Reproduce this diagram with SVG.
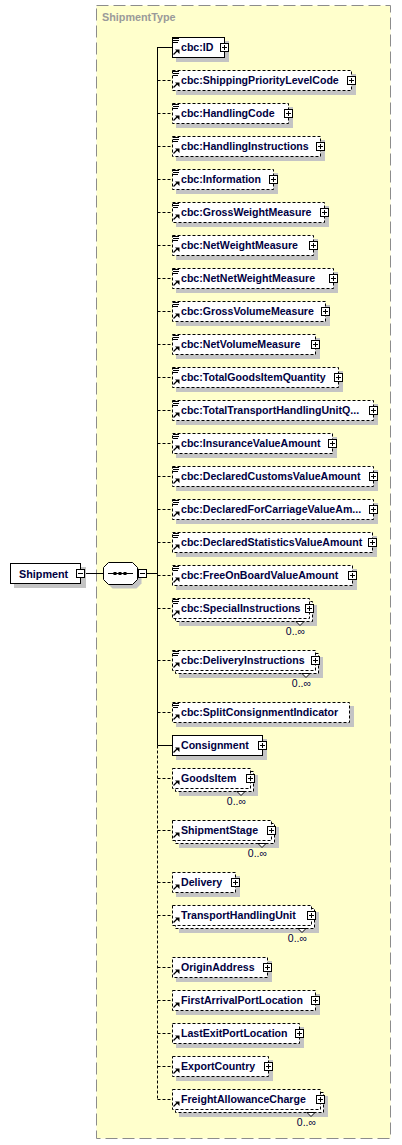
<svg xmlns="http://www.w3.org/2000/svg" width="402" height="1145" viewBox="0 0 402 1145">
<style>
.sh{fill:#c4c4c4}
.bx{fill:#fff;stroke:#000;stroke-width:1}
.d{stroke-dasharray:3,2}
.t{font-family:"Liberation Sans",Arial,sans-serif;font-weight:bold;font-size:10.6px;fill:#00003f}
.o{font-family:"Liberation Sans",Arial,sans-serif;font-size:10.5px;fill:#00003f;text-anchor:end}
.c{fill:none;stroke:#000;stroke-width:1}
.cd{fill:none;stroke:#000;stroke-width:1;stroke-dasharray:3,2}
.n{fill:#fff;stroke:#000;stroke-width:1}
</style>
<defs>
<g id="eq"><path d="M173,-8.5h6M173,-6.5h6M173,-4.5h5" stroke="#000" stroke-width="1"/></g>
<g id="ar"><path d="M173.5,7.5L177,4" stroke="#000" stroke-width="1.3"/><path d="M175,2.5H179.5V7z" fill="#000"/></g>
<g id="pl"><rect x="-3.5" y="-3.5" width="8" height="8" fill="#fff" stroke="#000"/><path d="M-2,0.5H3M0.5,-2V3" stroke="#000"/></g>
</defs>
<g id="ShipmentType">
<rect x="96.5" y="5.5" width="294" height="1133" fill="#ffffcc" stroke="#8c8c8c" stroke-dasharray="12,5"/>
<text x="102" y="21" style="font-family:'Liberation Sans',Arial,sans-serif;font-weight:bold;font-size:10.8px;fill:#9a9a9a">ShipmentType</text>
</g>
<g id="connectors">
<path class="c" d="M157.5,47V745.5"/>
<path class="cd" d="M157.5,745.5V1099.5"/>
<path class="c" d="M85.5,573.5H103.5M146.5,573.5H157.5"/>
<path class="c" d="M157.5,47.5H172M157.5,745.5H172"/>
<path class="cd" d="M157.5,80.5H172M157.5,113.5H172M157.5,146.5H172M157.5,179.5H172M157.5,212.5H172M157.5,245.5H172M157.5,278.5H172M157.5,311.5H172M157.5,344.5H172M157.5,377.5H172M157.5,410.5H172M157.5,443.5H172M157.5,476.5H172M157.5,509.5H172M157.5,542.5H172M157.5,575.5H172M157.5,608.5H172M157.5,660.5H172M157.5,712.5H172M157.5,778.5H172M157.5,830.5H172M157.5,882.5H172M157.5,915.5H172M157.5,967.5H172M157.5,1000.5H172M157.5,1033.5H172M157.5,1066.5H172M157.5,1099.5H172"/>
</g>
<g id="Shipment">
<rect class="sh" x="14" y="567" width="72" height="21"/>
<rect class="bx" x="10.5" y="563.5" width="70" height="20"/>
<text class="t" x="19" y="577.5" style="font-size:10.8px">Shipment</text>
<rect x="76.5" y="569.5" width="8" height="8" fill="#fff" stroke="#000"/><path d="M78,573.5H83" stroke="#000"/>
</g>
<g id="sequence">
<polygon class="sh" transform="translate(4,4)" points="108.5,562.5 132.5,562.5 137.5,567.5 137.5,579.5 132.5,584.5 108.5,584.5 103.5,579.5 103.5,567.5"/>
<polygon class="bx" points="108.5,562.5 132.5,562.5 137.5,567.5 137.5,579.5 132.5,584.5 108.5,584.5 103.5,579.5 103.5,567.5"/>
<path d="M108,573.5H133" stroke="#000"/>
<rect x="113.5" y="572" width="3" height="3" fill="#000"/><rect x="118.5" y="572" width="3" height="3" fill="#000"/><rect x="123.5" y="572" width="3" height="3" fill="#000"/>
<rect x="138.5" y="569.5" width="8" height="8" fill="#fff" stroke="#000"/><path d="M140,573.5H145" stroke="#000"/>
</g>
<g id="e1"><rect class="sh" x="176" y="41" width="53" height="21"/><rect class="bx" x="172.5" y="37.5" width="52" height="20"/><use href="#eq" y="47"/><use href="#ar" y="47"/><text class="t" x="181" y="51">cbc:ID</text><use href="#pl" x="224" y="47"/></g>
<g id="e2"><rect class="sh" x="176" y="74" width="180" height="21"/><rect class="bx d" x="172.5" y="70.5" width="179" height="20"/><use href="#eq" y="80"/><use href="#ar" y="80"/><text class="t" x="181" y="84">cbc:ShippingPriorityLevelCode</text><use href="#pl" x="351" y="80"/></g>
<g id="e3"><rect class="sh" x="176" y="107" width="117" height="21"/><rect class="bx d" x="172.5" y="103.5" width="116" height="20"/><use href="#eq" y="113"/><use href="#ar" y="113"/><text class="t" x="181" y="117">cbc:HandlingCode</text><use href="#pl" x="288" y="113"/></g>
<g id="e4"><rect class="sh" x="176" y="140" width="149" height="21"/><rect class="bx d" x="172.5" y="136.5" width="148" height="20"/><use href="#eq" y="146"/><use href="#ar" y="146"/><text class="t" x="181" y="150">cbc:HandlingInstructions</text><use href="#pl" x="320" y="146"/></g>
<g id="e5"><rect class="sh" x="176" y="173" width="102" height="21"/><rect class="bx d" x="172.5" y="169.5" width="101" height="20"/><use href="#eq" y="179"/><use href="#ar" y="179"/><text class="t" x="181" y="183">cbc:Information</text><use href="#pl" x="273" y="179"/></g>
<g id="e6"><rect class="sh" x="176" y="206" width="153" height="21"/><rect class="bx d" x="172.5" y="202.5" width="152" height="20"/><use href="#eq" y="212"/><use href="#ar" y="212"/><text class="t" x="181" y="216">cbc:GrossWeightMeasure</text><use href="#pl" x="324" y="212"/></g>
<g id="e7"><rect class="sh" x="176" y="239" width="142" height="21"/><rect class="bx d" x="172.5" y="235.5" width="141" height="20"/><use href="#eq" y="245"/><use href="#ar" y="245"/><text class="t" x="181" y="249">cbc:NetWeightMeasure</text><use href="#pl" x="313" y="245"/></g>
<g id="e8"><rect class="sh" x="176" y="272" width="162" height="21"/><rect class="bx d" x="172.5" y="268.5" width="161" height="20"/><use href="#eq" y="278"/><use href="#ar" y="278"/><text class="t" x="181" y="282">cbc:NetNetWeightMeasure</text><use href="#pl" x="333" y="278"/></g>
<g id="e9"><rect class="sh" x="176" y="305" width="154" height="21"/><rect class="bx d" x="172.5" y="301.5" width="153" height="20"/><use href="#eq" y="311"/><use href="#ar" y="311"/><text class="t" x="181" y="315">cbc:GrossVolumeMeasure</text><use href="#pl" x="325" y="311"/></g>
<g id="e10"><rect class="sh" x="176" y="338" width="144" height="21"/><rect class="bx d" x="172.5" y="334.5" width="143" height="20"/><use href="#eq" y="344"/><use href="#ar" y="344"/><text class="t" x="181" y="348">cbc:NetVolumeMeasure</text><use href="#pl" x="315" y="344"/></g>
<g id="e11"><rect class="sh" x="176" y="371" width="167" height="21"/><rect class="bx d" x="172.5" y="367.5" width="166" height="20"/><use href="#eq" y="377"/><use href="#ar" y="377"/><text class="t" x="181" y="381">cbc:TotalGoodsItemQuantity</text><use href="#pl" x="338" y="377"/></g>
<g id="e12"><rect class="sh" x="176" y="404" width="202" height="21"/><rect class="bx d" x="172.5" y="400.5" width="201" height="20"/><use href="#eq" y="410"/><use href="#ar" y="410"/><text class="t" x="181" y="414">cbc:TotalTransportHandlingUnitQ...</text><use href="#pl" x="373" y="410"/></g>
<g id="e13"><rect class="sh" x="176" y="437" width="161" height="21"/><rect class="bx d" x="172.5" y="433.5" width="160" height="20"/><use href="#eq" y="443"/><use href="#ar" y="443"/><text class="t" x="181" y="447">cbc:InsuranceValueAmount</text><use href="#pl" x="332" y="443"/></g>
<g id="e14"><rect class="sh" x="176" y="470" width="202" height="21"/><rect class="bx d" x="172.5" y="466.5" width="201" height="20"/><use href="#eq" y="476"/><use href="#ar" y="476"/><text class="t" x="181" y="480">cbc:DeclaredCustomsValueAmount</text><use href="#pl" x="373" y="476"/></g>
<g id="e15"><rect class="sh" x="176" y="503" width="202" height="21"/><rect class="bx d" x="172.5" y="499.5" width="201" height="20"/><use href="#eq" y="509"/><use href="#ar" y="509"/><text class="t" x="181" y="513">cbc:DeclaredForCarriageValueAm...</text><use href="#pl" x="373" y="509"/></g>
<g id="e16"><rect class="sh" x="176" y="536" width="201" height="21"/><rect class="bx d" x="172.5" y="532.5" width="200" height="20"/><use href="#eq" y="542"/><use href="#ar" y="542"/><text class="t" x="181" y="546">cbc:DeclaredStatisticsValueAmount</text><use href="#pl" x="372" y="542"/></g>
<g id="e17"><rect class="sh" x="176" y="569" width="181" height="21"/><rect class="bx d" x="172.5" y="565.5" width="180" height="20"/><use href="#eq" y="575"/><use href="#ar" y="575"/><text class="t" x="181" y="579">cbc:FreeOnBoardValueAmount</text><use href="#pl" x="352" y="575"/></g>
<g id="e18"><rect class="sh" x="179" y="605" width="138" height="21"/><rect class="bx d" x="175.5" y="601.5" width="137" height="20"/><rect class="bx d" x="172.5" y="598.5" width="137" height="20"/><use href="#eq" y="608"/><use href="#ar" y="608"/><text class="t" x="181" y="612">cbc:SpecialInstructions</text><use href="#pl" x="309" y="608"/><polygon class="n" points="296,621.5 300,625.5 304,621.5"/><text class="o" x="305" y="635">0..∞</text></g>
<g id="e19"><rect class="sh" x="179" y="657" width="144" height="21"/><rect class="bx d" x="175.5" y="653.5" width="143" height="20"/><rect class="bx d" x="172.5" y="650.5" width="143" height="20"/><use href="#eq" y="660"/><use href="#ar" y="660"/><text class="t" x="181" y="664">cbc:DeliveryInstructions</text><use href="#pl" x="315" y="660"/><polygon class="n" points="302,673.5 306,677.5 310,673.5"/><text class="o" x="311" y="687">0..∞</text></g>
<g id="e20"><rect class="sh" x="176" y="706" width="178" height="21"/><rect class="bx d" x="172.5" y="702.5" width="177" height="20"/><use href="#eq" y="712"/><use href="#ar" y="712"/><text class="t" x="181" y="716">cbc:SplitConsignmentIndicator</text></g>
<g id="e21"><rect class="sh" x="176" y="739" width="91" height="21"/><rect class="bx" x="172.5" y="735.5" width="90" height="20"/><use href="#ar" y="745"/><text class="t" x="181" y="749">Consignment</text><use href="#pl" x="262" y="745"/></g>
<g id="e22"><rect class="sh" x="179" y="775" width="79" height="21"/><rect class="bx d" x="175.5" y="771.5" width="78" height="20"/><rect class="bx d" x="172.5" y="768.5" width="78" height="20"/><use href="#ar" y="778"/><text class="t" x="181" y="782">GoodsItem</text><use href="#pl" x="250" y="778"/><polygon class="n" points="237,791.5 241,795.5 245,791.5"/><text class="o" x="246" y="805">0..∞</text></g>
<g id="e23"><rect class="sh" x="179" y="827" width="100" height="21"/><rect class="bx d" x="175.5" y="823.5" width="99" height="20"/><rect class="bx d" x="172.5" y="820.5" width="99" height="20"/><use href="#ar" y="830"/><text class="t" x="181" y="834">ShipmentStage</text><use href="#pl" x="271" y="830"/><polygon class="n" points="258,843.5 262,847.5 266,843.5"/><text class="o" x="267" y="857">0..∞</text></g>
<g id="e24"><rect class="sh" x="176" y="876" width="64" height="21"/><rect class="bx d" x="172.5" y="872.5" width="63" height="20"/><use href="#ar" y="882"/><text class="t" x="181" y="886">Delivery</text><use href="#pl" x="235" y="882"/></g>
<g id="e25"><rect class="sh" x="179" y="912" width="140" height="21"/><rect class="bx d" x="175.5" y="908.5" width="139" height="20"/><rect class="bx d" x="172.5" y="905.5" width="139" height="20"/><use href="#ar" y="915"/><text class="t" x="181" y="919">TransportHandlingUnit</text><use href="#pl" x="311" y="915"/><polygon class="n" points="298,928.5 302,932.5 306,928.5"/><text class="o" x="307" y="942">0..∞</text></g>
<g id="e26"><rect class="sh" x="176" y="961" width="96" height="21"/><rect class="bx d" x="172.5" y="957.5" width="95" height="20"/><use href="#ar" y="967"/><text class="t" x="181" y="971">OriginAddress</text><use href="#pl" x="267" y="967"/></g>
<g id="e27"><rect class="sh" x="176" y="994" width="144" height="21"/><rect class="bx d" x="172.5" y="990.5" width="143" height="20"/><use href="#ar" y="1000"/><text class="t" x="181" y="1004">FirstArrivalPortLocation</text><use href="#pl" x="315" y="1000"/></g>
<g id="e28"><rect class="sh" x="176" y="1027" width="128" height="21"/><rect class="bx d" x="172.5" y="1023.5" width="127" height="20"/><use href="#ar" y="1033"/><text class="t" x="181" y="1037">LastExitPortLocation</text><use href="#pl" x="299" y="1033"/></g>
<g id="e29"><rect class="sh" x="176" y="1060" width="97" height="21"/><rect class="bx d" x="172.5" y="1056.5" width="96" height="20"/><use href="#ar" y="1066"/><text class="t" x="181" y="1070">ExportCountry</text><use href="#pl" x="268" y="1066"/></g>
<g id="e30"><rect class="sh" x="179" y="1096" width="149" height="21"/><rect class="bx d" x="175.5" y="1092.5" width="148" height="20"/><rect class="bx d" x="172.5" y="1089.5" width="148" height="20"/><use href="#ar" y="1099"/><text class="t" x="181" y="1103">FreightAllowanceCharge</text><use href="#pl" x="320" y="1099"/><polygon class="n" points="307,1112.5 311,1116.5 315,1112.5"/><text class="o" x="316" y="1126">0..∞</text></g>
</svg>
